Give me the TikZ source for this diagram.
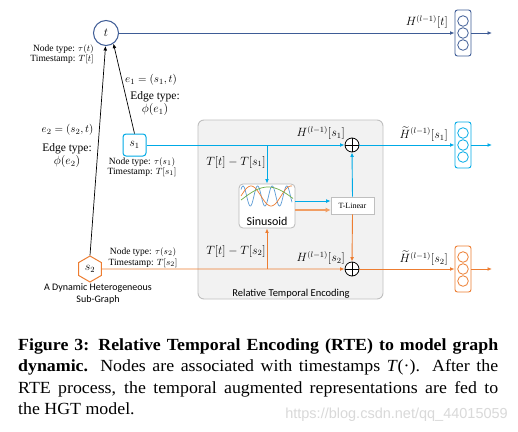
\documentclass[tikz,border=0pt]{standalone}
\usepackage{fontspec}
\usepackage{amsmath}
\newfontfamily\tnr{Liberation Serif}
\newfontfamily\capfont[FakeStretch=1.05]{Liberation Serif}
\newfontfamily\clb{Carlito}
\newfontfamily\arl{Liberation Sans}
\usetikzlibrary{arrows.meta,shapes.geometric}
\definecolor{tblue}{RGB}{62,92,150}
\definecolor{sblue}{RGB}{0,170,230}
\definecolor{sorange}{RGB}{237,125,49}
\definecolor{rtefill}{RGB}{242,242,242}
\definecolor{rtedraw}{RGB}{191,191,191}
\definecolor{wblue}{RGB}{91,155,213}
\definecolor{wgreen}{RGB}{112,173,71}
\begin{document}
\begin{tikzpicture}[x=1pt,y=-1pt,
  tip/.style={-{Latex[length=4.5pt,width=3.8pt]}},
  conn/.style={line width=0.9pt},
  edge/.style={line width=0.7pt,black,tip},
  vecbox/.style={draw=#1,rounded corners=2.5pt,line width=0.9pt,minimum width=16pt,minimum height=46pt,inner sep=0pt},
  oplusnode/.style={circle,draw=black,line width=0.8pt,minimum size=14pt,inner sep=0pt,fill=white,
    path picture={\draw[line width=0.8pt] (path picture bounding box.north) -- (path picture bounding box.south)
      (path picture bounding box.west) -- (path picture bounding box.east);}},
  smalllab/.style={font=\tnr\fontsize{9.5}{10.5}\selectfont,inner sep=0pt},
  edgelab/.style={font=\tnr\fontsize{11.5}{13}\selectfont,inner sep=0pt},
  hlab/.style={font=\fontsize{12}{14}\selectfont,inner sep=0pt},
  caplab/.style={font=\capfont\fontsize{17}{18}\selectfont,inner sep=0pt,anchor=base west}
]
\useasboundingbox (0,0) rectangle (518,431);
\fill[white] (0,0) rectangle (518,431);

% RTE box
\node[draw=rtedraw,fill=rtefill,rounded corners=6pt,line width=0.9pt,minimum width=185pt,minimum height=179pt,inner sep=0pt] (rte) at (290.5,209.5) {};
\node[font=\clb\fontsize{10.5}{12}\selectfont,anchor=base,inner sep=0pt] (rtelabel) at (291,296) {Relative Temporal Encoding};

% main nodes
\node[circle,draw=tblue,line width=1pt,minimum size=25pt,inner sep=0pt,font=\fontsize{13}{15}\selectfont] (t) at (106,33) {$t$};
\node[draw=sblue,rounded corners=3pt,line width=1pt,minimum width=23pt,minimum height=22pt,inner sep=0pt,font=\fontsize{12}{14}\selectfont] (s1) at (134.5,145) {$s_1$};
\node[regular polygon,regular polygon sides=6,shape border rotate=30,draw=sorange,line width=1pt,minimum size=26pt,inner sep=0pt,font=\fontsize{12}{14}\selectfont] (s2) at (90,269) {$s_2$};

% output vectors
\node[vecbox=tblue] (ot) at (463,33) {};
\node[vecbox=sblue] (o1) at (463,145) {};
\node[vecbox=sorange] (o2) at (463,269) {};
\foreach \y/\c in {33/tblue,145/sblue,269/sorange}{
  \foreach \d in {-12,0,12}{ \draw[\c,line width=0.8pt] (463,\y+\d) circle (5.3pt); }
}
\coordinate (endt) at (492,33);
\coordinate (end1) at (492,145);
\coordinate (end2) at (492,269);
\draw[tblue,conn,tip] (ot.east) -- (endt);
\draw[sblue,conn,tip] (o1.east) -- (end1);
\draw[sorange,conn,tip] (o2.east) -- (end2);

% sinusoid
\node[draw=gray!55,fill=white,rounded corners=4pt,line width=0.8pt,minimum width=56pt,minimum height=44pt,inner sep=0pt] (sin) at (267,206) {};
\draw[wblue,line width=0.7pt] plot[domain=241:292,samples=120,smooth] (\x,{196-10*cos((\x-243)/14.6*360)});
\draw[sorange,line width=0.7pt] plot[domain=241:292,samples=80,smooth] (\x,{196-10*cos((\x-251)/40*360)});
\draw[wgreen,line width=0.7pt] plot[domain=241:293,samples=60,smooth] (\x,{200-13*sin((\x-241)/54*180)});
\node[font=\clb\fontsize{12}{14}\selectfont,inner sep=0pt] (sinlabel) at (267,221) {Sinusoid};

\node[draw=gray!50,fill=white,line width=0.7pt,minimum width=43pt,minimum height=17pt,inner sep=0pt,font=\tnr\fontsize{8}{9}\selectfont] (tlin) at (352.5,205.5) {T-Linear};

\node[oplusnode] (op1) at (352,145) {};
\node[oplusnode] (op2) at (352,269) {};

% connectors
\draw[tblue,conn,tip] (t.east) -- (ot.west);
\draw[sblue,conn,tip] (s1.east) -- (op1.west);
\draw[sblue,conn,tip] (op1.east) -- (o1.west);
\draw[sorange,conn,tip] (s2.east) -- (op2.west);
\draw[sorange,conn,tip] (op2.east) -- (o2.west);
\coordinate (b1) at (267,145);
\coordinate (b2) at (267,269);
\draw[sblue,conn,tip] (b1) -- (sin.north);
\draw[sorange,conn,tip] (b2) -- (sin.south);
\coordinate (sa) at ([yshift=5pt]sin.east);
\coordinate (sb) at ([yshift=-4pt]sin.east);
\draw[sblue,conn,tip] (sa) -- (sa -| tlin.west);
\draw[sorange!75,line width=1.8pt,-{Latex[length=5pt,width=5pt]}] (sb) -- (sb -| tlin.west);
\draw[sblue,conn,tip] (tlin.north) -- (op1.south);
\draw[sorange,conn,tip] (tlin.south) -- (op2.north);

\draw[edge] (s1.north) -- (t.-55);
\draw[edge] (s2.north) -- (t.-92);

% labels
\node[smalllab,align=right,anchor=east] (tinfo) at (94,54) {Node type: $\tau(t)$\\Timestamp: $T[t]$};
\node[smalllab,align=center] (s1info) at (142,167) {Node type: $\tau(s_1)$\\Timestamp: $T[s_1]$};
\node[smalllab,align=center] (s2info) at (143,257.5) {Node type: $\tau(s_2)$\\Timestamp: $T[s_2]$};
\node[edgelab] (e1) at (151,80) {\fontsize{11}{13}\selectfont$e_1=(s_1,t)$};
\node[edgelab,align=center] (e1t) at (155,104) {Edge type:\\$\phi(e_1)$};
\node[edgelab] (e2) at (67.5,130) {\fontsize{11}{13}\selectfont$e_2=(s_2,t)$};
\node[edgelab,align=center] (e2t) at (67,156) {Edge type:\\$\phi(e_2)$};
\node[font=\clb\fontsize{10}{12}\selectfont,align=center,inner sep=0pt] (sgl) at (98,294) {A Dynamic Heterogeneous\\Sub-Graph};

\node[hlab,anchor=east] (ht) at (448,22) {$H^{(l-1)}[t]$};
\node[hlab,anchor=east] (hs1) at (345,133) {$H^{(l-1)}[s_1]$};
\node[hlab,anchor=east] (hs2) at (345,258) {$H^{(l-1)}[s_2]$};
\node[hlab,anchor=east] (hts1) at (448,134) {$\widetilde{H}^{(l-1)}[s_1]$};
\node[hlab,anchor=east] (hts2) at (448,258) {$\widetilde{H}^{(l-1)}[s_2]$};
\node[hlab] (dt1) at (236,162) {$T[t]-T[s_1]$};
\node[hlab] (dt2) at (236,251) {$T[t]-T[s_2]$};

% caption
\node[caplab] (cap1) at (18,350) {\makebox[480pt][s]{\bfseries Figure 3: Relative Temporal Encoding (RTE) to model graph}};
\node[caplab] (cap2) at (18,371.5) {\makebox[480pt][s]{\textbf{dynamic.} Nodes are associated with timestamps \textit{T}(·). After the}};
\node[caplab] (cap3) at (18,393) {\makebox[480pt][s]{RTE process, the temporal augmented representations are fed to}};
\node[caplab] (cap4) at (18,414.5) {the HGT model.};
\node[font=\arl\fontsize{14.5}{16}\selectfont,text=gray!30,anchor=base east,inner sep=0pt] (wm) at (508,418) {https://blog.csdn.net/qq\_44015059};
\end{tikzpicture}
\end{document}
